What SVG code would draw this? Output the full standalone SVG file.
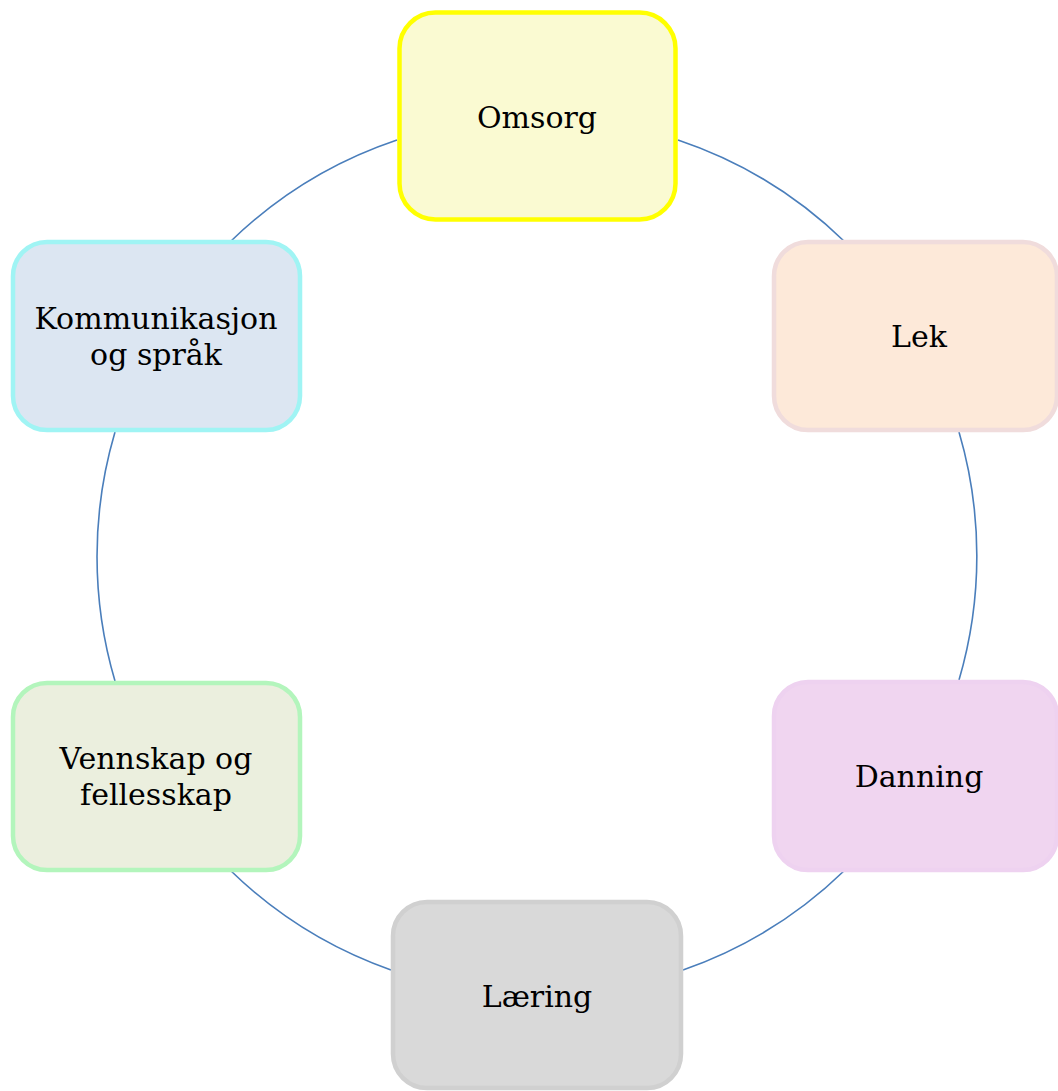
<svg xmlns="http://www.w3.org/2000/svg" width="1058" height="1091" viewBox="0 0 1058 1091">
<style>
.node rect{stroke-width:4.5}
.node text{font-family:"DejaVu Serif","Liberation Serif",serif;font-size:30px;fill:#000;text-anchor:middle}
.conn path{fill:none;stroke:#4a7ebb;stroke-width:1.6}
</style>
<rect width="1058" height="1091" fill="#fff"/>
<g id="connectors" class="conn">
<path d="M678,140 A440,440 0 0 1 845,242"/>
<path d="M959,432 A440,440 0 0 1 959,680"/>
<path d="M845,870 A440,440 0 0 1 683,970"/>
<path d="M391,970 A440,440 0 0 1 230,870"/>
<path d="M115,681 A440,440 0 0 1 115,432"/>
<path d="M230,242 A440,440 0 0 1 397,140"/>
</g>
<g id="omsorg" class="node">
<rect x="399.5" y="12.5" width="276" height="207" rx="36" fill="#fafad2" stroke="#ffff00" stroke-width="5"/>
<text x="537" y="128">Omsorg</text>
</g>
<g id="lek" class="node">
<rect x="774" y="242" width="283" height="188" rx="34" fill="#fde9d9" stroke="#f0dcdc"/>
<text x="919" y="347">Lek</text>
</g>
<g id="danning" class="node">
<rect x="774" y="682" width="283" height="188" rx="34" fill="#f0d5f0" stroke="#eed2f0"/>
<text x="919" y="787">Danning</text>
</g>
<g id="laering" class="node">
<rect x="393" y="902" width="288" height="186" rx="34" fill="#d9d9d9" stroke="#d0d0d0"/>
<text x="537" y="1007">Læring</text>
</g>
<g id="vennskap" class="node">
<rect x="13" y="683" width="287" height="187" rx="34" fill="#ebefde" stroke="#b3f5bc"/>
<text x="156" y="769">Vennskap og</text>
<text x="156" y="805">fellesskap</text>
</g>
<g id="kommunikasjon" class="node">
<rect x="13" y="242" width="287" height="188" rx="34" fill="#dce6f2" stroke="#a0f4f4"/>
<text x="156" y="329">Kommunikasjon</text>
<text x="156" y="365">og språk</text>
</g>
</svg>
